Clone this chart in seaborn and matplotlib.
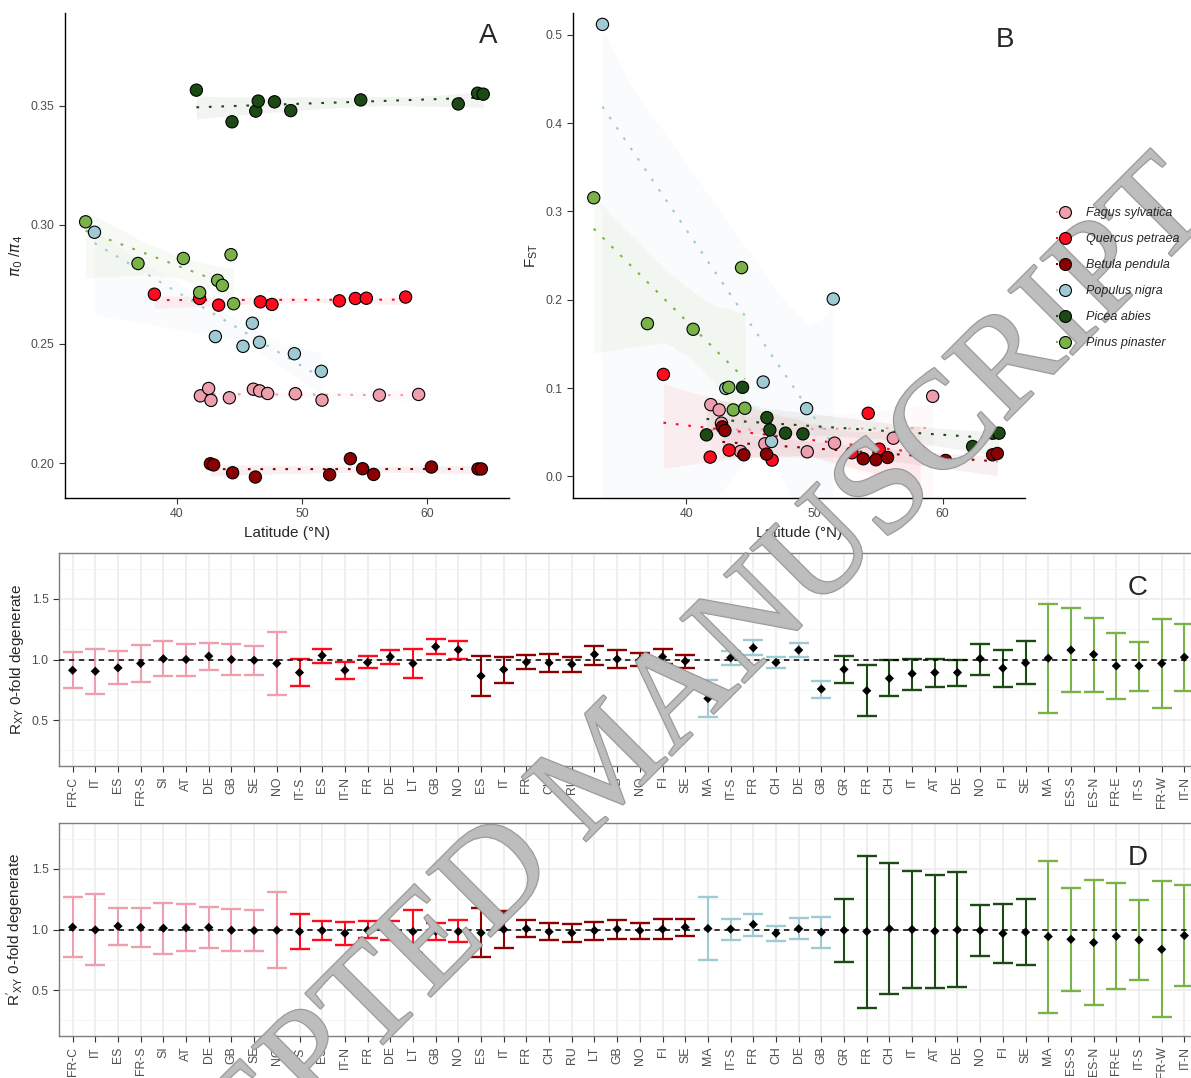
import numpy as np
import pandas as pd
import matplotlib
matplotlib.use("Agg")
import matplotlib.pyplot as plt
import matplotlib.patheffects as pe
from matplotlib.lines import Line2D
from matplotlib.ticker import MultipleLocator
import seaborn as sns

sns.set_style("ticks")
plt.rcParams["font.family"] = ["Liberation Sans", "DejaVu Sans"]

species = ["Fagus sylvatica", "Quercus petraea", "Betula pendula",
           "Populus nigra", "Picea abies", "Pinus pinaster"]
colours = ["#EE9FAD", "#FF0A1E", "#8B0000", "#9ECBD3", "#1C4A14", "#7AB24A"]

# panel A: pi0/pi4 by latitude
lat_a_fagus = [41.87, 42.53, 42.72, 44.19, 46.11, 46.61, 47.25, 49.47, 51.6, 56.19, 59.33]
pi_fagus = [0.2282, 0.2313, 0.2263, 0.2274, 0.2310, 0.2303, 0.2292, 0.2291, 0.2264, 0.2285, 0.2288]
lat_a_quercus = [38.19, 41.81, 43.33, 46.67, 47.60, 52.99, 54.27, 55.15, 58.29]
pi_quercus = [0.2709, 0.2691, 0.2663, 0.2677, 0.2666, 0.2681, 0.2691, 0.2692, 0.2697]
lat_a_betula = [42.67, 42.93, 44.45, 46.27, 52.21, 53.87, 54.85, 55.73, 60.35, 64.08, 64.35]
pi_betula = [0.1997, 0.1992, 0.1959, 0.1941, 0.1951, 0.2018, 0.1976, 0.1952, 0.1983, 0.1975, 0.1975]
lat_a_populus = [33.4, 43.07, 45.28, 46.03, 46.6, 49.39, 51.55]
pi_populus = [0.2969, 0.2531, 0.2490, 0.2587, 0.2507, 0.2459, 0.2385]
lat_a_picea = [41.55, 44.4, 46.3, 46.5, 47.8, 49.1, 54.7, 62.5, 64.05, 64.5]
pi_picea = [0.3566, 0.3433, 0.3478, 0.3520, 0.3517, 0.3480, 0.3525, 0.3508, 0.3553, 0.3549]
lat_a_pinus = [32.69, 36.88, 40.51, 41.81, 43.25, 43.63, 44.32, 44.53]
pi_pinus = [0.3013, 0.2838, 0.2859, 0.2716, 0.2767, 0.2746, 0.2875, 0.2669]

# panel B: Fst by latitude
lat_b_fagus = [41.9, 42.55, 42.73, 44.22, 46.12, 49.43, 51.56, 56.15, 59.22]
fst_fagus = [0.0812, 0.0752, 0.0602, 0.0282, 0.0368, 0.0278, 0.0376, 0.0432, 0.0906]
lat_b_quercus = [38.2, 41.85, 43.33, 46.69, 52.92, 54.19, 55.05, 58.23]
fst_quercus = [0.1154, 0.0218, 0.0297, 0.0184, 0.0267, 0.0714, 0.0308, 0.0282]
lat_b_betula = [42.8, 43.0, 44.48, 46.25, 53.8, 54.79, 55.7, 60.23, 63.9, 64.27]
fst_betula = [0.0560, 0.0519, 0.0244, 0.0252, 0.0199, 0.0188, 0.0214, 0.0180, 0.0244, 0.0259]
lat_b_populus = [33.44, 43.07, 45.99, 46.64, 49.38, 51.46]
fst_populus = [0.5117, 0.0996, 0.1068, 0.0395, 0.0767, 0.2008]
lat_b_picea = [41.56, 44.38, 46.28, 46.51, 47.73, 49.09, 62.34, 63.9, 64.4]
fst_picea = [0.0470, 0.1008, 0.0665, 0.0526, 0.0489, 0.0481, 0.0338, 0.0489, 0.0489]
lat_b_pinus = [32.76, 36.95, 40.52, 43.3, 43.65, 44.3, 44.56]
fst_pinus = [0.3154, 0.1729, 0.1665, 0.1008, 0.0752, 0.2363, 0.0771]

# panels C and D: Rxy per population
pops = ["FR-C", "IT", "ES", "FR-S", "SI", "AT", "DE", "GB", "SE", "NO",
        "IT-S", "ES", "IT-N", "FR", "DE", "LT", "GB", "NO",
        "ES", "IT", "FR", "CH", "RU", "LT", "GB", "NO", "FI", "SE",
        "MA", "IT-S", "FR", "CH", "DE", "GB",
        "GR", "FR", "CH", "IT", "AT", "DE", "NO", "FI", "SE",
        "MA", "ES-S", "ES-N", "FR-E", "IT-S", "FR-W", "IT-N"]
n_pops = [10, 8, 10, 6, 9, 7]

rxy = [0.911, 0.903, 0.931, 0.967, 1.006, 1.0, 1.028, 1.0, 0.994, 0.967,
       0.892, 1.033, 0.911, 0.975, 1.022, 0.967, 1.106, 1.081,
       0.864, 0.917, 0.978, 0.972, 0.961, 1.042, 1.003, 0.994, 1.022, 0.986,
       0.678, 1.014, 1.097, 0.975, 1.078, 0.756,
       0.919, 0.742, 0.844, 0.883, 0.892, 0.892, 1.008, 0.928, 0.972,
       1.011, 1.078, 1.042, 0.947, 0.947, 0.967, 1.019]
rxy_lo = [0.764, 0.717, 0.8, 0.814, 0.861, 0.861, 0.917, 0.869, 0.875, 0.708,
          0.783, 0.972, 0.839, 0.928, 0.961, 0.85, 1.042, 1.003,
          0.697, 0.806, 0.922, 0.894, 0.9, 0.958, 0.933, 0.944, 0.961, 0.933,
          0.528, 0.958, 1.039, 0.933, 1.017, 0.683,
          0.806, 0.533, 0.697, 0.75, 0.769, 0.781, 0.875, 0.772, 0.797,
          0.558, 0.731, 0.731, 0.672, 0.739, 0.603, 0.739]
rxy_hi = [1.058, 1.086, 1.067, 1.119, 1.15, 1.131, 1.133, 1.131, 1.111, 1.231,
          1.006, 1.083, 0.978, 1.028, 1.078, 1.083, 1.169, 1.156,
          1.028, 1.022, 1.039, 1.044, 1.017, 1.114, 1.075, 1.05, 1.083, 1.039,
          0.833, 1.069, 1.158, 1.019, 1.133, 0.825,
          1.031, 0.953, 0.992, 1.008, 1.008, 1.0, 1.131, 1.078, 1.153,
          1.461, 1.425, 1.344, 1.222, 1.147, 1.331, 1.292]

rpxy = [1.019, 0.997, 1.028, 1.017, 1.011, 1.014, 1.017, 0.994, 0.992, 0.994,
        0.983, 0.992, 0.969, 0.994, 0.989, 0.983, 0.986, 0.983,
        0.972, 1.0, 1.006, 0.981, 0.972, 0.992, 1.003, 0.992, 1.003, 1.019,
        1.008, 1.003, 1.042, 0.969, 1.006, 0.978,
        0.994, 0.983, 1.006, 1.0, 0.986, 0.997, 0.992, 0.967, 0.978,
        0.942, 0.919, 0.892, 0.944, 0.914, 0.836, 0.95]
rpxy_lo = [0.772, 0.703, 0.872, 0.856, 0.8, 0.819, 0.847, 0.819, 0.819, 0.686,
           0.842, 0.917, 0.875, 0.928, 0.911, 0.806, 0.917, 0.897,
           0.772, 0.847, 0.939, 0.917, 0.894, 0.917, 0.925, 0.925, 0.925, 0.95,
           0.75, 0.917, 0.947, 0.906, 0.925, 0.85,
           0.731, 0.353, 0.464, 0.517, 0.517, 0.525, 0.778, 0.722, 0.708,
           0.314, 0.489, 0.375, 0.506, 0.583, 0.275, 0.536]
rpxy_hi = [1.269, 1.292, 1.181, 1.175, 1.219, 1.208, 1.189, 1.169, 1.164, 1.308,
           1.125, 1.067, 1.058, 1.067, 1.067, 1.158, 1.053, 1.078,
           1.175, 1.153, 1.078, 1.05, 1.047, 1.064, 1.075, 1.056, 1.083, 1.083,
           1.272, 1.089, 1.128, 1.028, 1.092, 1.1,
           1.253, 1.611, 1.55, 1.483, 1.45, 1.472, 1.203, 1.208, 1.25,
           1.567, 1.347, 1.411, 1.381, 1.242, 1.397, 1.367]


def long_table(lats, vals):
    rows = []
    for sp, la, va in zip(species, lats, vals):
        for x, y in zip(la, va):
            rows.append({"species": sp, "lat": x, "val": y})
    return pd.DataFrame(rows)


tab_a = long_table([lat_a_fagus, lat_a_quercus, lat_a_betula, lat_a_populus, lat_a_picea, lat_a_pinus],
                   [pi_fagus, pi_quercus, pi_betula, pi_populus, pi_picea, pi_pinus])
tab_b = long_table([lat_b_fagus, lat_b_quercus, lat_b_betula, lat_b_populus, lat_b_picea, lat_b_pinus],
                   [fst_fagus, fst_quercus, fst_betula, fst_populus, fst_picea, fst_pinus])

W, H = 1191, 1078
fig = plt.figure(figsize=(W / 100, H / 100), dpi=100)


def box(l, t, r, b):
    return [l / W, 1 - b / H, (r - l) / W, (b - t) / H]


TICK_C = "#4D4D4D"
dotted = (0, (1.3, 4.7))


def scatter_panel(ax, tab, ylim, yticks, fmt):
    for sp, col in zip(species, colours):
        d = tab[tab.species == sp]
        n0 = len(ax.collections)
        sns.regplot(data=d, x="lat", y="val", ax=ax, scatter=False, ci=95, seed=0,
                    color=col, line_kws=dict(ls=dotted, lw=1.5, zorder=2))
        for c in ax.collections[n0:]:
            c.set_alpha(0.06)
            c.set_zorder(1)
    sns.scatterplot(data=tab, x="lat", y="val", hue="species", hue_order=species,
                    palette=colours, s=78, edgecolor="black", linewidth=0.8,
                    legend=False, ax=ax, zorder=3)
    ax.set_ylim(*ylim)
    ax.set_yticks(yticks)
    ax.set_yticklabels([fmt.format(v) for v in yticks])
    ax.set_xticks([40, 50, 60])
    sns.despine(ax=ax)
    for s in ["left", "bottom"]:
        ax.spines[s].set_linewidth(1.0)
        ax.spines[s].set_color("black")
    ax.tick_params(labelsize=8.8, labelcolor=TICK_C, colors="#333333",
                   length=4, width=0.8)
    ax.set_xlabel("Latitude (°N)", fontsize=11)


ax_a = fig.add_axes(box(65, 13, 509, 498))
scatter_panel(ax_a, tab_a, (0.1853, 0.389), [0.20, 0.25, 0.30, 0.35], "{:.2f}")
ax_a.set_xlim(31.04, 66.56)
ax_a.set_ylabel(r"$\pi_0$ /$\pi_4$", fontsize=11)

ax_b = fig.add_axes(box(573, 13, 1025, 498))
scatter_panel(ax_b, tab_b, (-0.0245, 0.5246), [0.0, 0.1, 0.2, 0.3, 0.4, 0.5], "{:.1f}")
ax_b.set_xlim(31.14, 66.43)
ax_b.set_ylabel(r"$\mathregular{F_{ST}}$", fontsize=11)

fig.text(488 / W, 1 - 36 / H, "A", fontsize=20, ha="center", va="center")
fig.text(1005 / W, 1 - 40 / H, "B", fontsize=20, ha="center", va="center")

handles = [Line2D([0], [0], color=c, ls=(0, (1, 2)), lw=1.5, marker="o",
                  markersize=8.6, markerfacecolor=c, markeredgecolor="black",
                  markeredgewidth=0.8) for c in colours]
fig.legend(handles, species, loc="upper left", bbox_to_anchor=(1056 / W, 1 - 207 / H),
           frameon=False, prop={"style": "italic", "size": 9}, handlelength=1.4,
           handletextpad=1.0, labelspacing=1.12, borderpad=0, borderaxespad=0)

sp_of_pop = np.repeat(np.arange(len(species)), n_pops)
xpos = np.arange(len(pops))


def ratio_panel(ax, mid, lo, hi, ylabel, letter, ly):
    mid, lo, hi = np.array(mid), np.array(lo), np.array(hi)
    ax.set_axisbelow(True)
    for i, col in enumerate(colours):
        m = sp_of_pop == i
        ax.errorbar(xpos[m], mid[m], yerr=[mid[m] - lo[m], hi[m] - mid[m]], fmt="none",
                    ecolor=col, elinewidth=1.5, capsize=7.3, capthick=1.7, zorder=2)
    ax.axhline(1.0, color="black", lw=1.1, ls=(0, (3.5, 3)), zorder=3)
    sns.scatterplot(x=xpos, y=mid, marker="D", color="black", s=22, edgecolor="none",
                    ax=ax, zorder=4)
    ax.set_xlim(-0.6, len(pops) - 0.4)
    ax.set_ylim(0.12, 1.88)
    ax.set_yticks([0.5, 1.0, 1.5])
    ax.yaxis.set_minor_locator(MultipleLocator(0.25))
    ax.set_xticks(xpos)
    ax.set_xticklabels(pops, rotation=90)
    ax.grid(True, which="major", color="#EBEBEB", lw=1.1)
    ax.grid(True, which="minor", axis="y", color="#F4F4F4", lw=0.6)
    ax.tick_params(which="minor", length=0)
    ax.tick_params(which="major", labelsize=8.8, labelcolor=TICK_C, colors="#333333",
                   length=4, width=0.8)
    for s in ax.spines.values():
        s.set_color("#7F7F7F")
        s.set_linewidth(1.0)
    ax.set_ylabel(ylabel, fontsize=11)
    ax.set_xlabel("")
    fig.text(1138 / W, 1 - ly / H, letter, fontsize=20, ha="center", va="center")


ax_c = fig.add_axes(box(59, 553, 1198, 766))
ratio_panel(ax_c, rxy, rxy_lo, rxy_hi, r"$\mathregular{R_{XY}}$ 0-fold degenerate", "C", 588)

ax_d = fig.add_axes(box(59, 823, 1198, 1036))
ratio_panel(ax_d, rpxy, rpxy_lo, rpxy_hi, r"$\mathregular{R'_{XY}}$ 0-fold degenerate", "D", 858)

# watermark over the whole figure
fig.text(610 / W, 1 - 770 / H, "ACCEPTED MANUSCRIPT", rotation=45, rotation_mode="anchor",
         ha="center", va="center", fontsize=100, family="Liberation Serif",
         color="#BDBDBD", alpha=0.9,
         path_effects=[pe.withStroke(linewidth=1.5, foreground="#8C8C8C")])

fig.savefig("out.png", dpi=100)
